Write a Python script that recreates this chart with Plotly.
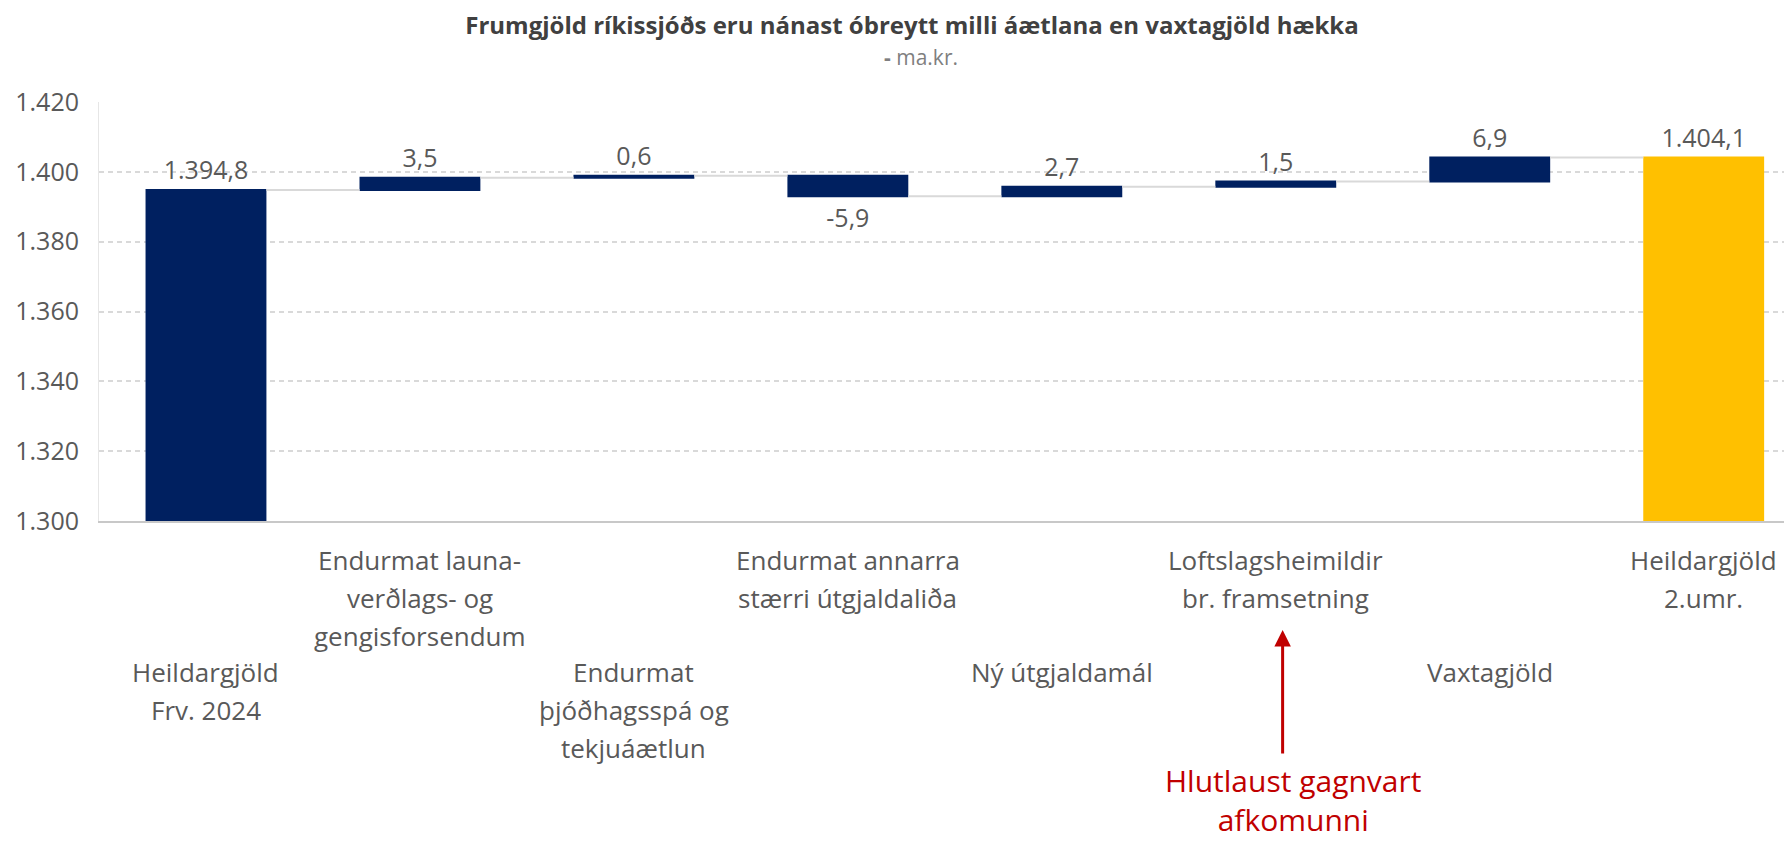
import plotly.graph_objects as go

# ---- data ----
categories = [
    "Heildargjöld<br>Frv. 2024",
    "Endurmat launa-<br>verðlags- og<br>gengisforsendum",
    "Endurmat<br>þjóðhagsspá og<br>tekjuáætlun",
    "Endurmat annarra<br>stærri útgjaldaliða",
    "Ný útgjaldamál",
    "Loftslagsheimildir<br>br. framsetning",
    "Vaxtagjöld",
    "Heildargjöld<br>2.umr.",
]
values = [1394.8, 3.5, 0.6, -5.9, 2.7, 1.5, 6.9, None]
measures = ["relative", "relative", "relative", "relative", "relative", "relative", "relative", "total"]
y_ticks = [1300, 1320, 1340, 1360, 1380, 1400, 1420]
title_text = "Frumgjöld ríkissjóðs eru nánast óbreytt milli áætlana en vaxtagjöld hækka"
subtitle_text = "<b>-</b> ma.kr."
note_text = "Hlutlaust gagnvart<br>afkomunni"
note_category = 5

def fmt(v):
    s = f"{v:,.1f}"
    return s.replace(",", "X").replace(".", ",").replace("X", ".")

running = 0.0
texts = []
for v, m in zip(values, measures):
    if m == "total":
        texts.append(fmt(running))
    else:
        running += v
        texts.append(fmt(v))

NAVY = "#002060"
GOLD = "#FFC000"
GRAY_TXT = "#595959"
FONT = "Open Sans"

fig = go.Figure(go.Waterfall(
    x=list(range(len(categories))),
    y=[0 if v is None else v for v in values],
    measure=measures,
    text=texts,
    textinfo="text",
    textposition="outside",
    textfont=dict(family=FONT, size=25, color=GRAY_TXT),
    outsidetextfont=dict(family=FONT, size=25, color=GRAY_TXT),
    cliponaxis=False,
    increasing=dict(marker=dict(color=NAVY)),
    decreasing=dict(marker=dict(color=NAVY)),
    totals=dict(marker=dict(color=GOLD)),
    connector=dict(line=dict(color="#d9d9d9", width=2), mode="between"),
    hoverinfo="skip",
))

# page body has an 8px margin: the figure is offset by OFF in the window
OFF = 8
W, H = 1792 - OFF, 841 - OFF
PL, PT, PR, PB = 97, 102, 1785, 521          # plot area in window pixels
L, T = PL - OFF, PT - OFF
R = W - (PR - OFF)
B = H - (PB - OFF)
plot_h = PB - PT
plot_w = PR - PL

def py(pix):
    return (PB - pix) / plot_h

def px(pix):
    return (pix - PL) / plot_w

annotations = []
# category labels: staggered rows, line by line
row_top = {0: 672, 1: 560}
line_step = 38
for i, lab in enumerate(categories):
    lines = lab.split("<br>")
    base = row_top[i % 2]
    for k, ln in enumerate(lines):
        annotations.append(dict(
            x=i, y=py(base + k * line_step), xref="x", yref="paper",
            text=ln, showarrow=False, xanchor="center", yanchor="middle",
            font=dict(family=FONT, size=26, color=GRAY_TXT),
        ))

# subtitle
annotations.append(dict(
    x=px(920), y=py(57), xref="paper", yref="paper",
    text=subtitle_text, showarrow=False, xanchor="center", yanchor="middle",
    font=dict(family=FONT, size=21, color="#7f7f7f"),
))

# red arrow
annotations.append(dict(
    x=note_category + 0.032, y=py(630), xref="x", yref="paper",
    text="", showarrow=True, arrowhead=2, arrowsize=1.1, arrowwidth=3,
    arrowcolor="#C00000", ax=0, ay=125,
))
# red note text
annotations.append(dict(
    x=note_category + 0.08, y=py(800), xref="x", yref="paper",
    text=note_text, showarrow=False, xanchor="center", yanchor="middle",
    font=dict(family=FONT, size=30, color="#C00000"),
))

fig.update_layout(
    width=W, height=H,
    margin=dict(l=L, r=R, t=T, b=B, pad=0),
    paper_bgcolor="white", plot_bgcolor="white",
    separators=",.",
    showlegend=False,
    waterfallgap=0.435,
    title=dict(
        text="<b>" + title_text + "</b>",
        x=(912 - OFF) / W, xanchor="center", xref="container",
        y=1 - (26 - OFF) / H, yanchor="middle", yref="container",
        font=dict(family=FONT, size=24, color="#404040"),
    ),
    xaxis=dict(
        range=[-0.5, 7.38], showticklabels=False, showgrid=False,
        showline=True, linecolor="#c8c8c8", linewidth=2, zeroline=False,
        ticks="", fixedrange=True,
    ),
    yaxis=dict(
        range=[1300, 1420], tickvals=y_ticks, tickformat=",",
        tickfont=dict(family=FONT, size=25, color=GRAY_TXT),
        showgrid=True, gridcolor="#d9d9d9", gridwidth=1.5, griddash="5px,4px",
        showline=True, linecolor="#e6e6e6", linewidth=1, zeroline=False,
        ticks="", ticklabelstandoff=14,
    ),
    annotations=annotations,
)

fig.write_html("out.html")
